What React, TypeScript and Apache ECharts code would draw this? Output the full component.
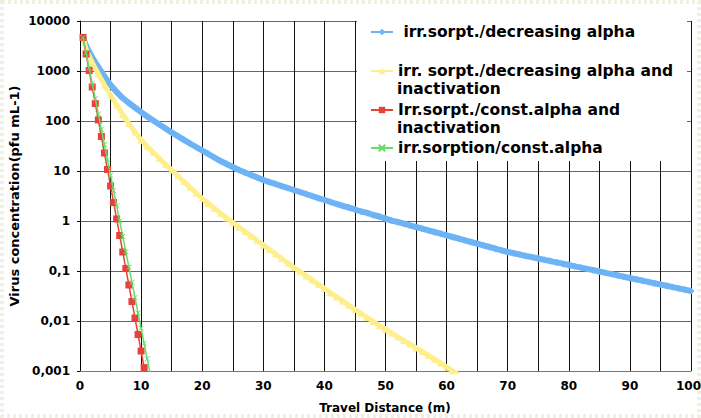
import React, { useEffect, useRef } from "react";
import * as echarts from "echarts";

const seriesNames = [
  " irr.sorpt./decreasing alpha",
  "irr. sorpt./decreasing alpha and inactivation",
  "Irr.sorpt./const.alpha and inactivation",
  "irr.sorption/const.alpha",
];
const legendFirstLines = [
  " irr.sorpt./decreasing alpha",
  "irr. sorpt./decreasing alpha and",
  "Irr.sorpt./const.alpha and",
  "irr.sorption/const.alpha",
];
const legendSecondLines = ["", "inactivation", "inactivation", ""];

const yTickLabels = ["0,001", "0,01", "0,1", "1", "10", "100", "1000", "10000"];
const xTickLabels = ["0", "10", "20", "30", "40", "50", "60", "70", "80", "90", "100"];
const xAxisTitle = "Travel Distance (m)";
const yAxisTitle = "Virus concentration(pfu mL-1)";

// distances (m)
const blueDist = [
  0.5, 1, 2, 3, 4, 5, 6, 7, 8, 9, 10, 11, 12, 13, 14, 15, 16, 17, 18, 19, 20,
  21, 22, 23, 24, 25, 26, 27, 28, 29, 30, 31, 32, 33, 34, 35, 36, 37, 38, 39, 40,
  41, 42, 43, 44, 45, 46, 47, 48, 49, 50, 51, 52, 53, 54, 55, 56, 57, 58, 59, 60,
  61, 62, 63, 64, 65, 66, 67, 68, 69, 70, 71, 72, 73, 74, 75, 76, 77, 78, 79, 80,
  81, 82, 83, 84, 85, 86, 87, 88, 89, 90, 91, 92, 93, 94, 95, 96, 97, 98, 99, 100,
];
const blueConc = [
  4700, 3160, 1860, 1200, 776, 525, 380, 288, 229, 186, 151, 123, 102, 85, 71, 59, 50, 42, 35.5, 30.2, 25.7,
  21.9, 18.6, 15.8, 13.8, 12.0, 10.5, 9.3, 8.3, 7.4, 6.6, 6.0, 5.5, 5.0, 4.57, 4.17, 3.8, 3.47, 3.16, 2.88, 2.63,
  2.4, 2.19, 2.0, 1.86, 1.7, 1.55, 1.45, 1.32, 1.23, 1.12, 1.02, 0.955, 0.885, 0.819, 0.759, 0.703, 0.65, 0.603, 0.558, 0.516,
  0.479, 0.444, 0.41, 0.38, 0.352, 0.326, 0.302, 0.28, 0.259, 0.24, 0.226, 0.213, 0.2, 0.189, 0.178, 0.167, 0.158, 0.149, 0.14, 0.132,
  0.124, 0.117, 0.11, 0.104, 0.0977, 0.092, 0.0867, 0.0817, 0.0769, 0.0724, 0.0682, 0.0643, 0.0605, 0.057, 0.0537, 0.0506, 0.0476, 0.0449, 0.0423, 0.0398,
];

const yellowDist = [
  0.5, 1, 2, 3, 4, 5, 6, 7, 8, 9, 10, 11, 12, 13, 14, 15, 16, 17, 18, 19, 20,
  21, 22, 23, 24, 25, 26, 27, 28, 29, 30, 31, 32, 33, 34, 35, 36, 37, 38, 39, 40,
  41, 42, 43, 44, 45, 46, 47, 48, 49, 50, 51, 52, 53, 54, 55, 56, 57, 58, 59, 60, 61, 62,
];
const yellowConc = [
  4700, 2750, 1480, 871, 525, 331, 209, 135, 89, 60, 41.7, 30.9, 23.4, 17.8, 13.5, 10.5, 8.04, 6.17, 4.73, 3.63, 2.82,
  2.24, 1.78, 1.43, 1.15, 0.933, 0.759, 0.617, 0.501, 0.407, 0.331, 0.269, 0.219, 0.178, 0.145, 0.117, 0.0968, 0.0798, 0.0658, 0.0542, 0.0447,
  0.0368, 0.0303, 0.025, 0.0206, 0.017, 0.0141, 0.0117, 0.00977, 0.00813, 0.00684, 0.00575, 0.00484, 0.00407, 0.00345, 0.0029, 0.00245, 0.00205, 0.00172, 0.00144, 0.0012, 0.001, 0.00084,
];

const redDist = [0.5, 1, 1.5, 2, 2.5, 3, 3.5, 4, 4.5, 5, 5.5, 6, 6.5, 7, 7.5, 8, 8.5, 9, 9.5, 10, 10.5];
const redConc = [
  4700, 2190, 1020, 479, 224, 105, 49.0, 22.9, 10.7, 5.01, 2.34, 1.1, 0.513, 0.24, 0.112, 0.0525, 0.0245, 0.0115, 0.00537, 0.00251, 0.00117,
];

const greenDist = [0.5, 1, 1.5, 2, 2.5, 3, 3.5, 4, 4.5, 5, 5.5, 6, 6.5, 7, 7.5, 8, 8.5, 9, 9.5, 10, 10.5, 11, 11.5];
const greenConc = [
  4700, 2310, 1140, 565, 279, 138, 68.2, 33.7, 16.7, 8.24, 4.07, 2.01, 0.995, 0.492, 0.243, 0.12, 0.0594, 0.0294, 0.0145, 0.00718, 0.00355, 0.00175, 0.000867,
];

const FONT = "'DejaVu Sans', Verdana, sans-serif";
const BLUE = "#6db3f6";
const YELLOW = "#ffee8c";
const RED = "#e8413c";
const GREEN = "#66dd66";

const pair = (xs: number[], ys: number[]) => xs.map((x, i) => [x, ys[i]]);

export default function App() {
  const ref = useRef<HTMLDivElement>(null);
  useEffect(() => {
    document.body.style.margin = "0";
    const chart = echarts.init(ref.current!, null, { renderer: "svg", width: 701, height: 418 });
    const legendTops = [32, 71, 110, 148];
    const legendCommon = {
      orient: "vertical",
      left: 370,
      padding: 0,
      itemWidth: 22,
      itemHeight: 8,
      itemGap: 0,
      selectedMode: false,
      z: 10,
      lineStyle: { width: 2 },
      textStyle: { fontFamily: FONT, fontWeight: "bold", fontSize: 15.5, color: "#000", lineHeight: 18 },
    };
    const option: any = {
      animation: false,
      backgroundColor: "#ffffff",
      grid: { left: 80, right: 10, top: 21, bottom: 47, containLabel: false, outerBoundsMode: "none" },
      xAxis: {
        type: "value",
        min: 0,
        max: 100,
        interval: 5,
        axisLine: { show: true, lineStyle: { color: "#777", width: 1 } },
        axisTick: { show: false },
        axisLabel: {
          margin: 9,
          fontFamily: FONT,
          fontWeight: "bold",
          fontSize: 12,
          color: "#000",
          formatter: (v: number) => {
            const r = Math.round(v);
            if (r % 10 !== 0) return "";
            const t = xTickLabels[r / 10];
            return r === 100 ? "{last|" + t + "}" : t;
          },
          rich: {
            last: { fontFamily: FONT, fontWeight: "bold", fontSize: 12, color: "#000", padding: [0, 5, 0, 0] },
          },
        },
        splitLine: { show: true, lineStyle: { color: "#111", width: 1 } },
      },
      yAxis: {
        type: "log",
        logBase: 10,
        min: 0.001,
        max: 10000,
        axisLine: { show: true, lineStyle: { color: "#000", width: 1 } },
        axisTick: { show: true, length: 3, lineStyle: { color: "#000" } },
        axisLabel: {
          margin: 10,
          fontFamily: FONT,
          fontWeight: "bold",
          fontSize: 12,
          color: "#000",
          formatter: (v: number) => yTickLabels[Math.round(Math.log10(v)) + 3] ?? "",
        },
        splitLine: { show: true, lineStyle: { color: "#666", width: 1 } },
      },
      legend: seriesNames.map((n, i) => ({
        ...legendCommon,
        top: legendTops[i] - 9,
        data: [n],
        formatter: () => legendFirstLines[i],
      })),
      graphic: [
        {
          type: "rect",
          z: 0,
          silent: true,
          shape: { x: 2, y: 2, width: 697, height: 414 },
          style: { fill: "none", stroke: "#f0efe2", lineWidth: 4, lineDash: [3, 3] },
        },
        {
          type: "rect",
          z: 5,
          silent: true,
          shape: { x: 357, y: 19, width: 330, height: 142 },
          style: { fill: "#ffffff" },
        },
        ...legendSecondLines
          .map((t, i) => ({ t, i }))
          .filter((o) => o.t)
          .map((o) => ({
            type: "text",
            z: 11,
            x: 397,
            y: legendTops[o.i] + 18,
            style: {
              text: o.t,
              fontFamily: FONT,
              fontWeight: "bold",
              fontSize: 15.5,
              fill: "#000",
              align: "left",
              verticalAlign: "middle",
            },
          })),
        {
          type: "text",
          z: 11,
          x: 385,
          y: 408,
          style: {
            text: xAxisTitle,
            fontFamily: FONT,
            fontWeight: "bold",
            fontSize: 12,
            fill: "#000",
            align: "center",
            verticalAlign: "middle",
          },
        },
        {
          type: "text",
          z: 11,
          x: 14,
          y: 196,
          rotation: Math.PI / 2,
          style: {
            text: yAxisTitle,
            fontFamily: FONT,
            fontWeight: "bold",
            fontSize: 13,
            fill: "#000",
            align: "center",
            verticalAlign: "middle",
          },
        },
      ],
      series: [
        {
          name: seriesNames[0],
          type: "line",
          data: pair(blueDist, blueConc),
          symbol: "diamond",
          symbolSize: 7,
          lineStyle: { color: BLUE, width: 6 },
          itemStyle: { color: BLUE },
          z: 2,
        },
        {
          name: seriesNames[1],
          type: "line",
          data: pair(yellowDist, yellowConc),
          symbol: "triangle",
          symbolSize: 7,
          lineStyle: { color: YELLOW, width: 5 },
          itemStyle: { color: YELLOW },
          z: 3,
        },
        {
          name: seriesNames[2],
          type: "line",
          data: pair(redDist, redConc),
          symbol: "rect",
          symbolSize: 7,
          lineStyle: { color: RED, width: 1.5 },
          itemStyle: { color: RED },
          z: 4,
        },
        {
          name: seriesNames[3],
          type: "line",
          data: pair(greenDist, greenConc),
          symbol: "path://M0,0L10,10M10,0L0,10",
          symbolSize: 5,
          lineStyle: { color: GREEN, width: 1.5 },
          itemStyle: { color: GREEN, borderColor: GREEN, borderWidth: 1 },
          z: 5,
        },
      ],
    };
    chart.setOption(option);
    return () => chart.dispose();
  }, []);
  return (
    <div
      ref={ref}
      style={{ position: "fixed", left: 0, top: 0, width: 701, height: 418, background: "#fff" }}
    />
  );
}
